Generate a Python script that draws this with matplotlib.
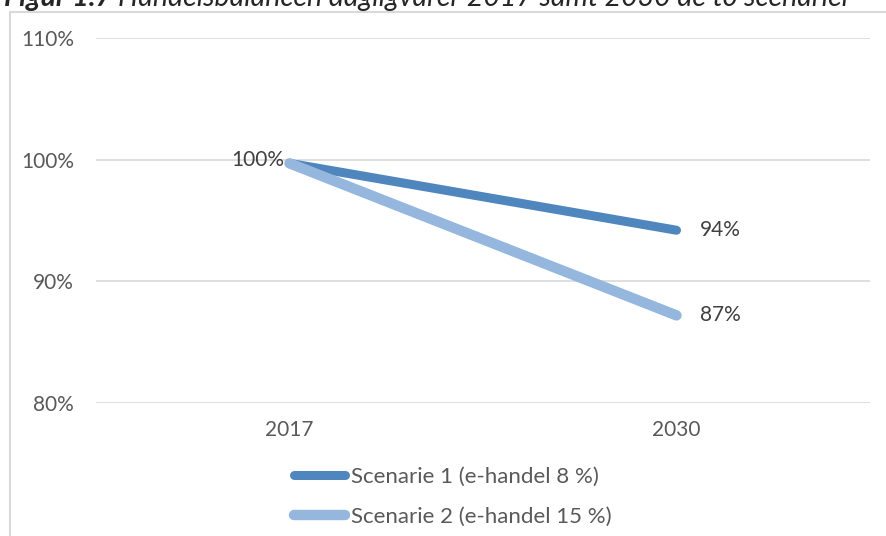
import matplotlib.pyplot as plt
from matplotlib.patches import Rectangle

# -----------------------------
# Data
# -----------------------------
years = ["2017", "2030"]
scenario_1 = [99.7, 94.2]
scenario_2 = [99.7, 87.2]
labels_1 = ["100%", "94%"]
labels_2 = ["", "87%"]
series_names = ["Scenarie 1 (e-handel 8 %)", "Scenarie 2 (e-handel 15 %)"]
y_ticks = [80, 90, 100, 110]

plt.rcParams['font.family'] = ['Lato', 'DejaVu Sans']

W, H = 887, 536
fig = plt.figure(figsize=(W / 100, H / 100), dpi=100)

# outer chart frame (cut off at right and bottom)
fig.patches.append(Rectangle((10 / W, -0.05), 1.0, 1 - 12 / H + 0.05,
                             transform=fig.transFigure, fill=False,
                             edgecolor="#D9D9D9", linewidth=1.5))

# title, cut off at the top as in the source
t1 = fig.text(4 / W, 1 - 6 / H, "Figur 1.7", fontsize=20.5, fontweight="bold",
              fontstyle="italic", color="#262626", va="baseline", ha="left")
fig.canvas.draw()
bb = t1.get_window_extent()
fig.text((bb.x1 + 6) / W, 1 - 6 / H,
         "Handelsbalancen dagligvarer 2017 samt 2030 de to scenarier",
         fontsize=20.5, fontstyle="italic", color="#262626", va="baseline", ha="left")

ax = fig.add_axes([96 / W, 1 - 403 / H, (870 - 96) / W, (403 - 38) / H])
x = list(range(len(years)))

line1, = ax.plot(x, scenario_1, color="#4F86BE", linewidth=6.5,
                 solid_capstyle="round", zorder=3, label=series_names[0])
line2, = ax.plot(x, scenario_2, color="#95B7DE", linewidth=7.5,
                 solid_capstyle="round", zorder=4, label=series_names[1])

ax.set_xlim(-0.5, 1.5)
ax.set_ylim(80, 110)
ax.set_yticks(y_ticks)
ax.set_yticklabels([f"{t}%" for t in y_ticks])
ax.set_xticks(x)
ax.set_xticklabels(years)
ax.tick_params(length=0, labelsize=15, labelcolor="#595959", pad=16)
ax.tick_params(axis="x", pad=12)
for s in ax.spines.values():
    s.set_visible(False)
ax.grid(axis="y", color="#D9D9D9", linewidth=1.2)
ax.set_axisbelow(True)

# data labels
ax.annotate(labels_1[0], (x[0], 100), xytext=(-4, 0), textcoords="offset points",
            ha="right", va="center", fontsize=15, color="#404040")
ax.annotate(labels_1[1], (x[1], scenario_1[1]), xytext=(17, 0), textcoords="offset points",
            ha="left", va="center", fontsize=15, color="#404040")
ax.annotate(labels_2[1], (x[1], scenario_2[1]), xytext=(17, 0), textcoords="offset points",
            ha="left", va="center", fontsize=15, color="#404040")

fig.legend(handles=[line1, line2], loc="upper left",
           bbox_to_anchor=(294 / W, 1 - 467 / H), frameon=False, borderpad=0,
           borderaxespad=0, fontsize=16, labelcolor="#595959", handlelength=2.3,
           handletextpad=0.25, labelspacing=0.9)

fig.savefig("out.png", dpi=100)
